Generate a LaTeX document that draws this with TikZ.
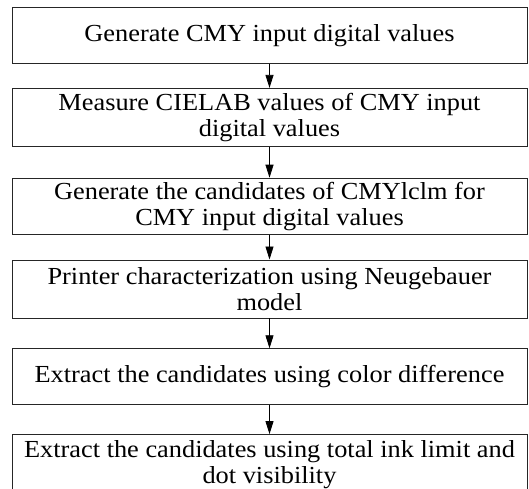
\documentclass[tikz,border=0pt]{standalone}
\usepackage{fontspec}
\setmainfont{Liberation Serif}[FakeStretch=1.075]
\usetikzlibrary{
arrows.meta,
positioning
}

\begin{document}
\begin{tikzpicture}[
node distance=24pt,
>={Triangle[length=13pt,width=8pt]},
every node/.style={
draw=black!85,
line width=0.8pt,
align=center,
inner sep=2pt,
minimum width=515pt,
minimum height=56pt,
font=\fontsize{24.5}{26}\selectfont
}
]

\useasboundingbox (0,0) rectangle (529pt,-488pt);

\node (gen) at (269.5pt,-35.5pt) {Generate CMY input digital values};
\node (meas) [below=24pt of gen, minimum height=58pt] {Measure CIELAB values of CMY input\\digital values};
\node (cand) [below=31pt of meas] {Generate the candidates of CMYlclm for\\CMY input digital values};
\node (printer) [below=25pt of cand, minimum height=58pt] {Printer characterization using Neugebauer\\model};
\node (diff) [below=30pt of printer] {Extract the candidates using color difference};
\node (ink) [below=29pt of diff, minimum height=60pt] {Extract the candidates using total ink limit and\\dot visibility};

\draw[->, line width=0.8pt] (gen) -- (meas);
\draw[->, line width=0.8pt] (meas) -- (cand);
\draw[->, line width=0.8pt] (cand) -- (printer);
\draw[->, line width=0.8pt] (printer) -- (diff);
\draw[->, line width=0.8pt] (diff) -- (ink);

\end{tikzpicture}
\end{document}
